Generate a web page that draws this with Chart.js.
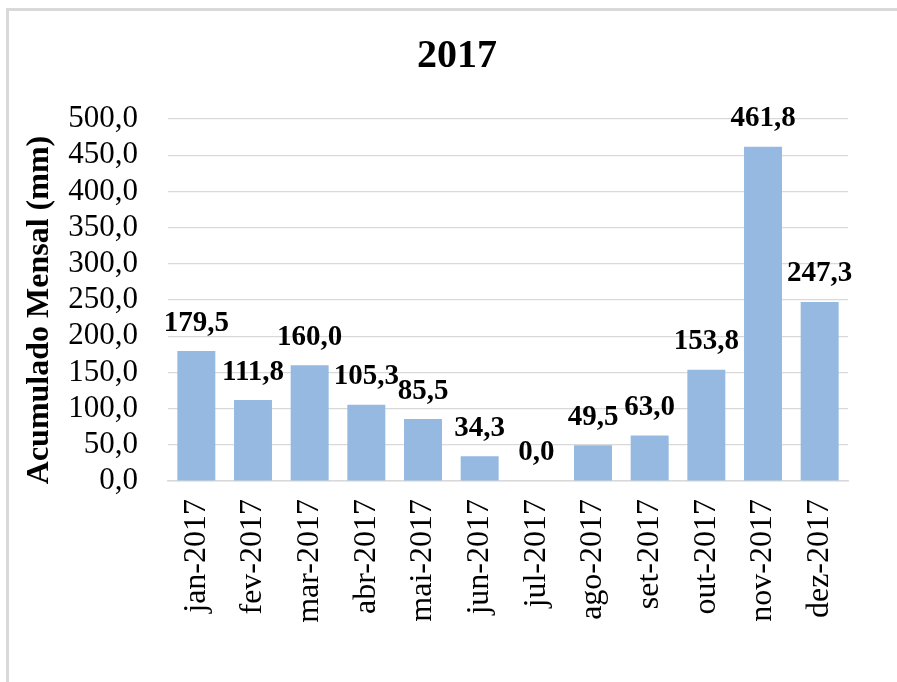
<!DOCTYPE html>
<html>
<head>
<meta charset="utf-8">
<script src="https://cdn.jsdelivr.net/npm/chart.js@4/dist/chart.umd.min.js"></script>
<style>
  body { margin: 0; background: #fff; }
  #wrap { width: 897px; height: 682px; }
</style>
</head>
<body>
<div id="wrap"><canvas id="chuva-chart" width="897" height="682"></canvas></div>
<script>
var meses = ["jan-2017", "fev-2017", "mar-2017", "abr-2017", "mai-2017", "jun-2017",
             "jul-2017", "ago-2017", "set-2017", "out-2017", "nov-2017", "dez-2017"];
var acumulado = [179.5, 111.8, 160.0, 105.3, 85.5, 34.3, 0.0, 49.5, 63.0, 153.8, 461.8, 247.3];
var tituloGrafico = "2017";
var tituloEixoY = "Acumulado Mensal (mm)";

var fonte = "'Liberation Serif', 'Times New Roman', serif";

function virgula(v) {
    return Number(v).toFixed(1).replace('.', ',');
}

// moldura, titulo, titulo do eixo y e rotulos das barras
var extras = {
    id: 'extras',
    beforeDraw: function(chart) {
        var ctx = chart.ctx;
        ctx.save();
        ctx.fillStyle = '#ffffff';
        ctx.fillRect(0, 0, chart.width, chart.height);
        ctx.strokeStyle = '#d9d9d9';
        ctx.lineWidth = 3;
        ctx.beginPath();
        ctx.moveTo(7.5, chart.height);
        ctx.lineTo(7.5, 9.5);
        ctx.lineTo(chart.width, 9.5);
        ctx.stroke();
        ctx.restore();
    },
    afterDatasetsDraw: function(chart) {
        var ctx = chart.ctx;
        var meta = chart.getDatasetMeta(0);
        ctx.save();
        ctx.fillStyle = '#000';
        ctx.font = "bold 29px " + fonte;
        ctx.textAlign = 'center';
        ctx.textBaseline = 'middle';
        meta.data.forEach(function(bar, i) {
            ctx.fillText(virgula(acumulado[i]), bar.x, bar.y - 28);
        });
        ctx.font = "bold 40px " + fonte;
        ctx.fillText(tituloGrafico, 457, 57);
        ctx.translate(40, 310);
        ctx.rotate(-Math.PI / 2);
        ctx.font = "bold 32px " + fonte;
        ctx.fillText(tituloEixoY, 0, 0);
        ctx.restore();
    }
};

var ChuvaChartConfig = {
    type: 'bar',
    data: {
        labels: meses,
        datasets: [{
            data: acumulado,
            backgroundColor: '#95b9e1',
            borderWidth: 0,
            barPercentage: 0.67,
            categoryPercentage: 1
        }]
    },
    options: {
        responsive: false,
        animation: false,
        layout: { padding: { left: 0, right: 49, top: 119, bottom: 0 } },
        plugins: {
            legend: { display: false },
            title: { display: false },
            tooltip: { enabled: false }
        },
        scales: {
            x: {
                grid: { display: false, drawTicks: false },
                border: { display: true, color: '#d9d9d9', width: 1.5 },
                ticks: {
                    color: '#000',
                    font: { family: fonte, size: 32 },
                    minRotation: 90,
                    maxRotation: 90,
                    padding: 18,
                    autoSkip: false
                },
                afterFit: function(scale) { scale.height = 201; }
            },
            y: {
                min: 0,
                max: 500,
                grid: { color: '#d9d9d9', lineWidth: 1.2, drawTicks: false },
                border: { display: false },
                ticks: {
                    stepSize: 50,
                    autoSkip: false,
                    color: '#000',
                    font: { family: fonte, size: 31 },
                    padding: 30,
                    callback: function(v) { return virgula(v); }
                },
                afterFit: function(scale) { scale.width = 168; }
            }
        }
    },
    plugins: [extras]
};
var ChuvaChart = new Chart(document.getElementById("chuva-chart").getContext('2d'), ChuvaChartConfig);
</script>
</body>
</html>
